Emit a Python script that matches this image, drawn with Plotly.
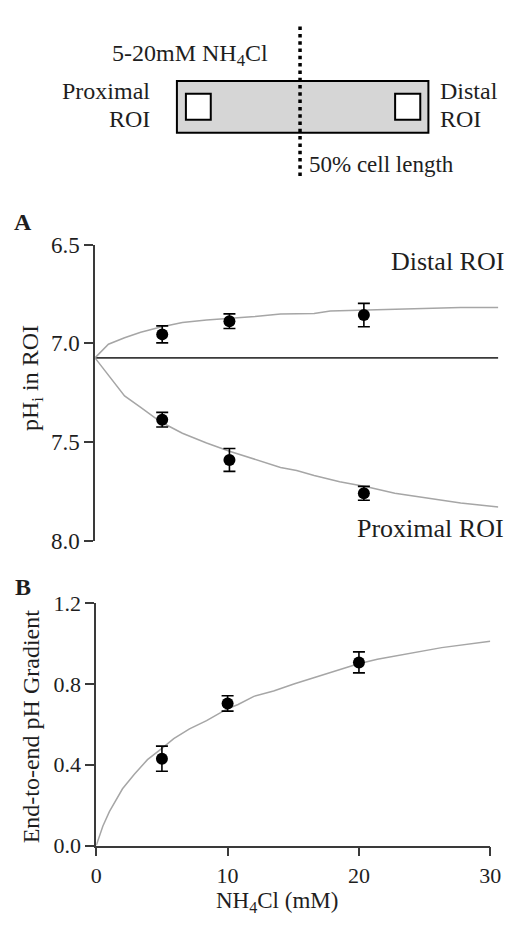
import plotly.graph_objects as go

# ---------------- data ----------------
conc_points = [5, 10, 20]

distal_ph = [6.955, 6.888, 6.857]
distal_err = [0.043, 0.037, 0.059]
proximal_ph = [7.387, 7.591, 7.760]
proximal_err = [0.037, 0.058, 0.035]

distal_fit_x = [0, 1.0, 2.2, 3.4, 4.9, 6.5, 8.3, 10.0, 11.9, 13.8, 15.0, 16.3, 17.5, 20.2, 22.3, 26.0, 27.2, 30.0]
distal_fit_y = [7.074, 7.005, 6.972, 6.944, 6.918, 6.895, 6.882, 6.875, 6.865, 6.852, 6.850, 6.849, 6.837, 6.833, 6.828, 6.824, 6.819, 6.819]

proximal_fit_x = [0, 1.0, 2.2, 3.4, 4.9, 6.5, 8.3, 10.0, 11.9, 13.8, 15.0, 16.3, 18.2, 20.2, 22.3, 24.7, 27.2, 30.0]
proximal_fit_y = [7.074, 7.161, 7.267, 7.325, 7.399, 7.456, 7.505, 7.547, 7.588, 7.629, 7.645, 7.670, 7.702, 7.727, 7.760, 7.785, 7.809, 7.830]

baseline_x = [0, 30]
baseline_y = [7.074, 7.074]

gradient = [0.430, 0.703, 0.906]
gradient_err = [0.062, 0.038, 0.052]

gradient_fit_x = [0, 0.5, 1.0, 2.0, 2.9, 3.9, 5.0, 5.9, 7.1, 8.4, 9.9, 10.8, 12.0, 13.5, 15.1, 17.7, 19.9, 21.4, 23.8, 26.3, 30.0]
gradient_fit_y = [0, 0.096, 0.168, 0.281, 0.353, 0.425, 0.481, 0.529, 0.577, 0.618, 0.674, 0.698, 0.738, 0.765, 0.800, 0.854, 0.898, 0.922, 0.950, 0.979, 1.011]

ph_ticks = [6.5, 7.0, 7.5, 8.0]
ph_ticktext = ["6.5", "7.0", "7.5", "8.0"]
grad_ticks = [0, 0.4, 0.8, 1.2]
grad_ticktext = ["0.0", "0.4", "0.8", "1.2"]
conc_ticks = [0, 10, 20, 30]

# ---------------- styling ----------------
W, H = 519, 928
FONT = "Liberation Serif, Times New Roman, serif"
TXT = "#1e1e1e"
AX = "#3a3a3a"
FIT = "#a6a6a6"


def X(px):
    return px / W


def Y(py):
    return 1 - py / H


fig = go.Figure()

fit_line = dict(color=FIT, width=1.5)
pt_marker = dict(color="black", size=12)


def err(arr):
    return dict(type="data", array=arr, color="black", thickness=1.6, width=6)


# Panel A
fig.add_trace(go.Scatter(x=baseline_x, y=baseline_y, mode="lines",
                         line=dict(color=AX, width=1.6), xaxis="x", yaxis="y"))
fig.add_trace(go.Scatter(x=distal_fit_x, y=distal_fit_y, mode="lines",
                         line=fit_line, xaxis="x", yaxis="y"))
fig.add_trace(go.Scatter(x=proximal_fit_x, y=proximal_fit_y, mode="lines",
                         line=fit_line, xaxis="x", yaxis="y"))
fig.add_trace(go.Scatter(x=conc_points, y=distal_ph, mode="markers",
                         marker=pt_marker, error_y=err(distal_err),
                         xaxis="x", yaxis="y"))
fig.add_trace(go.Scatter(x=conc_points, y=proximal_ph, mode="markers",
                         marker=pt_marker, error_y=err(proximal_err),
                         xaxis="x", yaxis="y"))

# Panel B
fig.add_trace(go.Scatter(x=gradient_fit_x, y=gradient_fit_y, mode="lines",
                         line=fit_line, xaxis="x2", yaxis="y2"))
fig.add_trace(go.Scatter(x=conc_points, y=gradient, mode="markers",
                         marker=pt_marker, error_y=err(gradient_err),
                         xaxis="x2", yaxis="y2"))

axis_common = dict(showgrid=False, zeroline=False, showline=True,
                   linecolor=AX, linewidth=1.5, ticks="outside",
                   ticklen=9, tickwidth=1.5, tickcolor=AX)

fig.update_layout(
    width=W, height=H, autosize=False,
    margin=dict(l=0, r=0, t=0, b=0),
    paper_bgcolor="white", plot_bgcolor="white",
    showlegend=False,
    font=dict(family=FONT, color=TXT, size=22),
    xaxis=dict(domain=[X(92), X(509)], range=[0, 30], visible=False,
               anchor="y"),
    yaxis=dict(domain=[Y(543.3), Y(239)], range=[8.0, 6.5],
               tickvals=ph_ticks, ticktext=ph_ticktext,
               tickfont=dict(size=23, family=FONT, color=TXT),
               anchor="x", **axis_common),
    xaxis2=dict(domain=[X(93.3), X(500.7)], range=[0, 30],
                tickvals=conc_ticks,
                tickfont=dict(size=22, family=FONT, color=TXT),
                anchor="y2", **axis_common),
    yaxis2=dict(domain=[Y(856.7), Y(607.3)], range=[0, 1.2],
                tickvals=grad_ticks, ticktext=grad_ticktext,
                tickfont=dict(size=22, family=FONT, color=TXT),
                anchor="x2", **axis_common),
)

# ---------------- schematic ----------------
shapes = [
    dict(type="rect", xref="paper", yref="paper",
         x0=X(176.7), x1=X(436.7), y0=Y(124), y1=Y(71),
         fillcolor="#d6d6d6", line=dict(color="black", width=2)),
    dict(type="rect", xref="paper", yref="paper",
         x0=X(186), x1=X(211.7), y0=Y(110.7), y1=Y(84),
         fillcolor="white", line=dict(color="black", width=2)),
    dict(type="rect", xref="paper", yref="paper",
         x0=X(402.3), x1=X(428.3), y0=Y(110.7), y1=Y(84),
         fillcolor="white", line=dict(color="black", width=2)),
    dict(type="line", xref="paper", yref="paper",
         x0=X(304), x1=X(304), y0=Y(15), y1=Y(172),
         line=dict(color="black", width=3.5, dash="3.5px,3.8px")),
]
fig.update_layout(shapes=shapes)


def ann(text, x, y, size=24, xanchor="center", yanchor="middle", angle=0,
        bold=False):
    if bold:
        text = "<b>" + text + "</b>"
    fig.add_annotation(text=text, x=X(x), y=Y(y), xref="paper", yref="paper",
                       xanchor=xanchor, yanchor=yanchor, textangle=angle,
                       showarrow=False,
                       font=dict(family=FONT, size=size, color=TXT))


ann("5-20mM NH<sub>4</sub>Cl", 273, 44, size=24, xanchor="right")
ann("Proximal", 151, 81, size=24, xanchor="right")
ann("ROI", 151, 110, size=24, xanchor="right")
ann("Distal", 447, 81, size=24, xanchor="left")
ann("ROI", 447, 110, size=24, xanchor="left")
ann("50% cell length", 311, 157, size=23, xanchor="left")

ann("A", 6, 216, size=24, xanchor="left", bold=True)
ann("B", 7, 591, size=24, xanchor="left", bold=True)

ann("Distal ROI", 517, 256, size=26, xanchor="right")
ann("Proximal ROI", 517, 531, size=26, xanchor="right")

ann("pH<sub>i</sub> in ROI", 27, 376, size=24, angle=-90)
ann("End-to-end pH Gradient", 26, 734, size=24, angle=-90)
ann("NH<sub>4</sub>Cl (mM)", 280, 915, size=23)

fig.write_html(
    "out.html",
    config={"displayModeBar": False},
    post_script=(
        "document.documentElement.style.margin='0';"
        "document.body.style.margin='0';"
        "document.body.style.padding='0';"
        "document.documentElement.style.overflow='hidden';"
        "document.body.style.overflow='hidden';"
        "var gd=document.getElementById('{plot_id}');"
        "gd.style.position='absolute';gd.style.left='0px';gd.style.top='0px';"
    ),
)
